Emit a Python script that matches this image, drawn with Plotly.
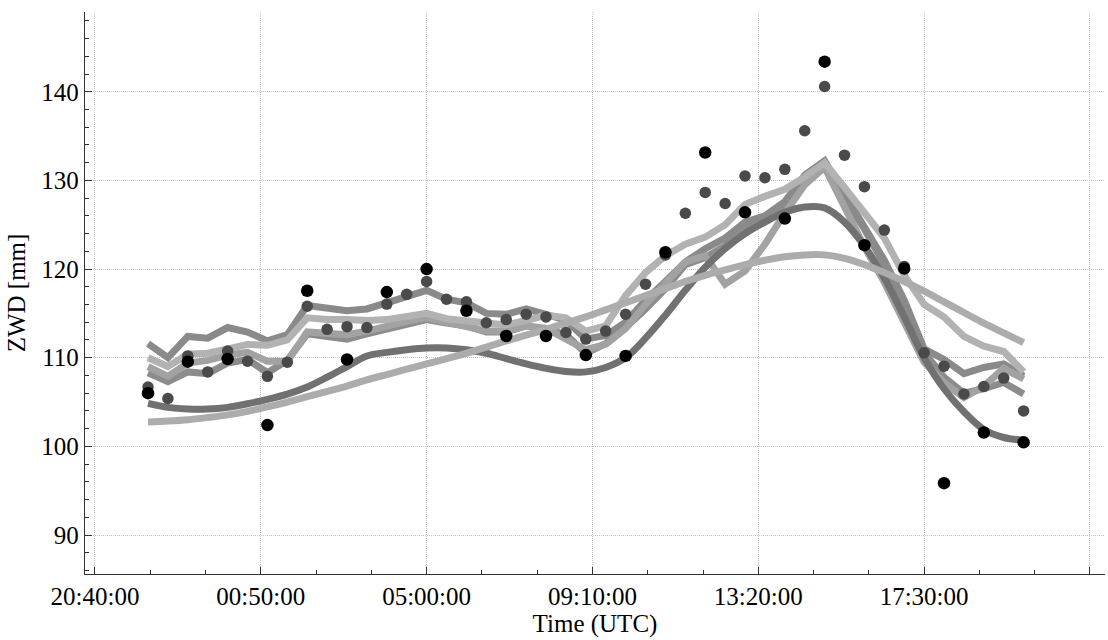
import pandas as pd
import plotly.graph_objects as go

# ---- data -------------------------------------------------------------
t_half = pd.date_range("2020-01-01 22:00", "2020-01-02 20:00", freq="30min")
t_hour = pd.date_range("2020-01-01 22:00", "2020-01-02 20:00", freq="60min")

obs_black = [106.0, 109.55, 109.85, 102.4, 117.55, 109.8, 117.4, 120.0, 115.3, 112.45,
             112.45, 110.3, 110.2, 121.9, 133.15, 126.4, 125.7, 143.4, 122.7, 120.05,
             95.85, 101.55, 100.45]

obs_dark = [106.7, 105.4, 110.2, 108.4, 110.75, 109.6, 107.9, 109.5, 115.8, 113.2,
            113.5, 113.4, 116.05, 117.15, 118.6, 116.6, 116.3, 113.95, 114.3, 114.9,
            114.6, 112.85, 112.1, 113.0, 114.9, 118.3, 121.6, 126.3, 128.65, 127.4,
            130.5, 130.3, 131.25, 135.6, 140.6, 132.85, 129.3, 124.4, 120.3, 110.55,
            109.05, 105.9, 106.75, 107.7, 104.0]

smooth_dark = [104.85, 104.4, 104.2, 104.2, 104.4, 104.8, 105.3, 105.9, 106.7, 107.8,
               109.0, 110.2, 110.6, 110.9, 111.1, 111.1, 110.9, 110.5, 109.9, 109.3,
               108.8, 108.45, 108.4, 108.9, 110.0, 112.2, 114.8, 117.6, 120.2, 122.3,
               124.0, 125.3, 126.4, 127.0, 126.9, 125.3, 122.6, 119.0, 114.6, 110.0,
               106.5, 103.9, 101.9, 101.0, 100.7]

smooth_light = [102.75, 102.85, 103.0, 103.25, 103.55, 103.95, 104.45, 105.0, 105.6, 106.2,
                106.8, 107.5, 108.1, 108.7, 109.3, 109.9, 110.5, 111.2, 111.9, 112.55,
                113.2, 113.9, 114.6, 115.4, 116.2, 117.0, 117.8, 118.6, 119.3, 119.9,
                120.5, 121.0, 121.4, 121.6, 121.6, 121.2, 120.5, 119.6, 118.6, 117.5,
                116.3, 115.1, 113.9, 112.8, 111.7]

model_a = [111.6, 110.0, 112.4, 112.2, 113.4, 112.9, 111.9, 112.6, 115.9, 115.6,
           115.3, 115.5, 116.3, 116.9, 117.6, 116.6, 116.2, 115.0, 114.9, 115.5,
           114.9, 114.2, 112.1, 112.5, 114.0, 116.5, 118.6, 120.8, 122.3, 123.5,
           125.3, 126.0, 127.6, 130.6, 132.2, 128.5, 125.0, 121.0, 116.5, 111.0,
           109.8, 108.2, 108.9, 109.3, 107.9]

model_b = [110.0, 109.0, 110.4, 110.5, 111.0, 111.5, 111.4, 112.0, 114.5, 114.3,
           114.3, 114.2, 114.3, 114.7, 115.0, 114.4, 114.2, 113.9, 113.7, 114.2,
           114.8, 114.5, 113.0, 113.6, 117.0, 119.6, 121.5, 122.8, 123.6, 125.0,
           127.3, 128.2, 129.0, 130.4, 132.0, 129.2, 126.5, 123.5, 119.3, 116.0,
           114.6, 112.4, 111.3, 110.7, 108.4]

model_c = [109.0, 107.9, 109.4, 109.7, 110.3, 110.6, 109.6, 109.6, 112.9, 112.7,
           112.6, 113.0, 113.6, 114.1, 114.5, 114.0, 113.7, 113.0, 113.0, 113.6,
           113.3, 112.0, 110.9, 111.5, 113.3, 116.0, 118.3, 120.8, 121.5, 118.3,
           119.8, 122.8, 126.3, 129.5, 131.5, 127.0, 122.5, 118.5, 114.0, 109.5,
           107.2, 105.5, 106.8, 108.8, 107.6]

model_d = [108.3, 107.3, 108.4, 108.2, 109.4, 109.8, 108.3, 109.7, 112.7, 112.3,
           112.1, 112.7, 113.2, 113.9, 114.3, 113.9, 113.6, 112.9, 112.9, 113.6,
           113.2, 112.6, 110.5, 111.6, 113.4, 115.5, 117.8, 120.5, 121.3, 122.6,
           124.8, 125.8, 127.0, 129.8, 131.8, 128.0, 124.5, 120.5, 115.5, 110.6,
           107.8, 106.0, 106.5, 107.2, 105.9]

x_tickvals = ["2020-01-01 20:40", "2020-01-02 00:50", "2020-01-02 05:00",
              "2020-01-02 09:10", "2020-01-02 13:20", "2020-01-02 17:30",
              "2020-01-02 21:40"]
x_ticktext = ["20:40:00", "00:50:00", "05:00:00", "09:10:00", "13:20:00", "17:30:00", ""]
y_tickvals = [90, 100, 110, 120, 130, 140]

# ---- figure -----------------------------------------------------------
fig = go.Figure()
LW = 7
for ys, col, shape in [
    (model_d, "#8c8c8c", "linear"),
    (model_a, "#8a8a8a", "linear"),
    (model_c, "#a2a2a2", "linear"),
    (model_b, "#b2b2b2", "linear"),
    (smooth_dark, "#717171", "spline"),
    (smooth_light, "#acacac", "spline"),
]:
    fig.add_trace(go.Scatter(x=t_half, y=ys, mode="lines",
                             line=dict(color=col, width=LW, shape=shape),
                             showlegend=False, hoverinfo="skip"))

fig.add_trace(go.Scatter(x=t_half, y=obs_dark, mode="markers",
                         marker=dict(color="#4a4a4a", size=11.5), showlegend=False))
fig.add_trace(go.Scatter(x=t_hour, y=obs_black, mode="markers",
                         marker=dict(color="#000000", size=12.5), showlegend=False))

font = dict(family="Liberation Serif", size=25, color="#000000")
GRID = "#c4c4c4"
fig.update_layout(
    width=1108, height=640,
    margin=dict(l=85, r=3, t=12, b=66),
    paper_bgcolor="white", plot_bgcolor="white",
    font=font,
    xaxis=dict(
        type="date",
        range=["2020-01-01 20:25:00", "2020-01-02 22:02:40"],
        tickmode="array", tickvals=x_tickvals, ticktext=x_ticktext,
        ticks="inside", ticklen=7, tickcolor="#333333", tickwidth=1,
        showline=True, linecolor="#333333", linewidth=1.3,
        showgrid=True, gridcolor=GRID, griddash="1px,1px", gridwidth=1,
        zeroline=False,
        minor=dict(ticks="inside", ticklen=4, tickcolor="#333333",
                   tick0="2020-01-01 20:40", dtick=5000000, showgrid=False),
        title=dict(text="Time (UTC)", font=font, standoff=2),
        tickfont=font,
    ),
    yaxis=dict(
        range=[85.6, 149],
        tickmode="array", tickvals=y_tickvals,
        ticks="inside", ticklen=7, tickcolor="#333333", tickwidth=1,
        showline=True, linecolor="#333333", linewidth=1.3,
        showgrid=True, gridcolor=GRID, griddash="1px,1px", gridwidth=1,
        zeroline=False,
        minor=dict(ticks="inside", ticklen=4, tickcolor="#333333",
                   dtick=2, tick0=0, showgrid=False),
        title=dict(text="ZWD [mm]", font=font, standoff=8),
        tickfont=font,
    ),
)

fig.write_html("out.html", config={"displayModeBar": False},
               post_script="document.body.style.margin='0';")
